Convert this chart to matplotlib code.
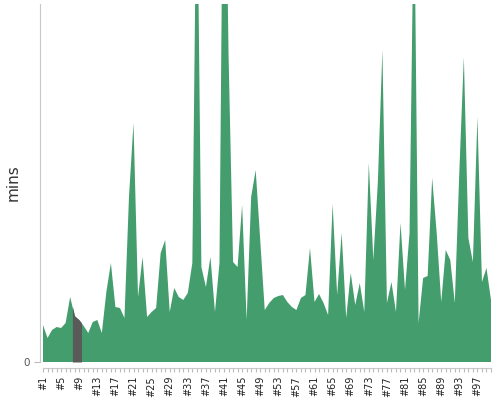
import numpy as np
import matplotlib
matplotlib.use("Agg")
import matplotlib.pyplot as plt

# minutes per item (#1 .. #100)
mins = [3.7, 2.4, 3.2, 3.5, 3.4, 3.9, 6.5, 4.6, 4.2, 3.6,
        2.9, 4.0, 4.2, 2.9, 7.0, 9.9, 5.5, 5.4, 4.4, 16.5,
        23.9, 6.5, 10.5, 4.5, 5.0, 5.4, 10.9, 12.2, 5.0, 7.4,
        6.5, 6.2, 6.9, 9.9, 52.0, 9.5, 7.5, 10.5, 5.0, 9.9,
        63.0, 30.8, 10.0, 9.5, 15.7, 4.2, 16.5, 19.2, 12.2, 5.2,
        5.9, 6.4, 6.6, 6.7, 6.0, 5.5, 5.2, 6.4, 6.7, 11.4,
        6.0, 6.8, 5.9, 4.7, 15.8, 6.7, 12.9, 4.4, 8.9, 5.7,
        7.9, 5.0, 19.9, 10.2, 18.0, 31.2, 5.9, 8.0, 5.0, 13.9,
        7.2, 12.9, 48.0, 3.9, 8.4, 8.6, 18.4, 12.9, 6.0, 11.2,
        10.2, 5.9, 19.0, 30.5, 12.4, 10.0, 24.5, 8.0, 9.4, 6.2]
labels = ["#%d" % (i + 1) for i in range(len(mins))]
highlight = (8, 9)   # selected items drawn in grey

green = "#449d6d"
grey = "#5a5a5a"

x = np.arange(1, len(mins) + 1)
y = np.array(mins)

fig = plt.figure(figsize=(5, 4), dpi=100)
ax = fig.add_axes([0.08, 0.095, 0.902, 0.895])

ax.fill_between(x, y, color=green, lw=0)
hx = np.linspace(highlight[0] - 0.5, highlight[1] + 0.5, 60)
ax.fill_between(hx, np.interp(hx, x, y), color=grey, lw=0)

ax.set_xlim(1 - 3 / 4.52, len(mins))
ax.set_ylim(0, 35.8)

for s in ["top", "right"]:
    ax.spines[s].set_visible(False)
ax.spines["left"].set_color("#c8c8c8")
ax.spines["bottom"].set_color("#c8c8c8")
ax.spines["bottom"].set_position(("outward", 4))
ax.spines["bottom"].set_bounds(1, len(mins))

ax.set_yticks([0])
ax.set_yticklabels(["0"], fontsize=7.5, color="#555555")
ax.tick_params(axis="y", length=4, color="#bbbbbb", pad=3)

ax.set_xticks(x)
ax.set_xticklabels([lab if i % 4 == 0 else "" for i, lab in enumerate(labels)],
                   rotation=90, fontsize=7, color="#222222")
ax.tick_params(axis="x", length=3, color="#bbbbbb", pad=3)

ax.set_ylabel("mins", fontsize=11, color="#333333")
ax.yaxis.set_label_coords(-0.044, 0.5)

fig.savefig("out.png", dpi=100)
